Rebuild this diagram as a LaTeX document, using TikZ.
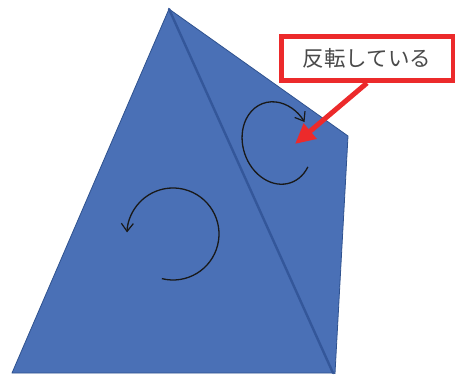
\documentclass[tikz,border=0pt]{standalone}
\usepackage{fontspec}
\newfontfamily\jpfont{Noto Sans CJK JP}
\usetikzlibrary{arrows.meta}
\definecolor{faceblue}{HTML}{4A70B6}
\definecolor{edgeblue}{HTML}{2F528F}
\definecolor{creaseblue}{HTML}{34579A}
\definecolor{calloutred}{HTML}{EC2A2B}
\definecolor{notegray}{HTML}{4A4A4A}
\tikzset{
  face/.style={fill=faceblue, draw=edgeblue, line width=0.8pt, line join=round},
  crease/.style={draw=creaseblue, line width=2.4pt, line cap=round},
  spin/.style={draw=black!90, line width=1.3pt, -{Straight Barb[length=8pt, width=12pt, line width=1.2pt]}},
  callout/.style={draw=calloutred, line width=5pt, fill=white, minimum width=172pt, minimum height=44pt,
    inner sep=0pt, font=\jpfont\fontsize{21.5pt}{25pt}\selectfont, text=notegray},
  pointer/.style={draw=calloutred, line width=5pt, -{Triangle[length=20pt, width=19pt]}},
}
\begin{document}
\begin{tikzpicture}[x=1pt, y=1pt]
\useasboundingbox (0,0) rectangle (455,375);
\coordinate (apex) at (169.000,366.000);
\coordinate (baseL) at (12.000,2.000);
\coordinate (baseR) at (333.000,2.000);
\coordinate (wing) at (348.000,239.000);
\coordinate (wingfoot) at (335.000,1.500);
\filldraw[face] (apex) -- (wing) -- (wingfoot) -- (baseR) -- cycle;
\filldraw[face] (apex) -- (baseL) -- (baseR) -- cycle;
\draw[crease] (apex) -- (baseR);
\draw[spin] (173.000,141.000) ++(-104:46) arc[start angle=-104, end angle=178, radius=46];
\begin{scope}[shift={(277.000,232.000)}, rotate=19]
\draw[spin] (-51:34 and 42) arc[start angle=-51, end angle=-345, x radius=34, y radius=42];
\end{scope}
\node[callout] (note) at (367.000,316.500) {反転している};
\coordinate (target) at (295.000,231.000);
\draw[pointer] (note.south) -- (target);
\end{tikzpicture}
\end{document}
